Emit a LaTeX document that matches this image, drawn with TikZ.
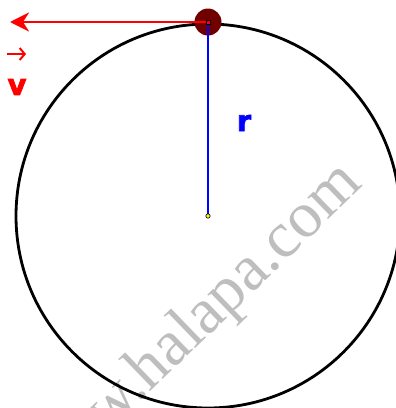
\documentclass[tikz,border=0pt]{standalone}
\usepackage{fontspec}
\setmainfont{Liberation Serif}
\setsansfont{DejaVu Sans}
\newfontfamily\heavyfont{DejaVu Sans}[BoldFont={DejaVu Sans Bold},BoldFeatures={FakeBold=2.5}]
\usetikzlibrary{arrows.meta}
\definecolor{ballred}{RGB}{112,0,0}
\definecolor{marklgray}{RGB}{190,190,190}

\begin{document}
\begin{tikzpicture}[x=1pt,y=-1pt,>=Stealth]
\useasboundingbox (0,0) rectangle (396,408);
\coordinate (O) at (208,216);
\coordinate (P) at (208,22);
\coordinate (V) at (10,22);
\coordinate (A1) at (7,54);
\coordinate (A2) at (26,54);

\node[text=marklgray,font=\fontsize{65}{65}\selectfont,rotate=44,anchor=base] (wm) at (202,342) {www.halapa.com};

\draw[line width=2.8pt] (O) circle (192pt);
\node[circle,fill=ballred,minimum size=27pt,inner sep=0pt] (ball) at (P) {};
\draw[blue,line width=2.8pt] (P)--(O);
\draw[red,line width=2.8pt,-{Stealth[length=19pt,width=19pt,inset=6pt]}] (P)--(V);
\node[draw=black,fill=red,minimum size=4pt,inner sep=0pt,line width=0.5pt] (pmark) at (P) {};
\filldraw[fill=yellow,draw=black,line width=0.6pt] (O) circle (2.2pt);

\draw[red,line width=2pt,-{Straight Barb[length=5pt,width=12pt]}] (A1)--(A2);
\node[text=red,font=\heavyfont\bfseries\fontsize{29}{30}\selectfont,inner sep=0pt] (vlabel) at (17,87) {v};
\node[text=blue,font=\heavyfont\bfseries\fontsize{29}{30}\selectfont,inner sep=0pt] (rlabel) at (244,123) {r};
\end{tikzpicture}
\end{document}
